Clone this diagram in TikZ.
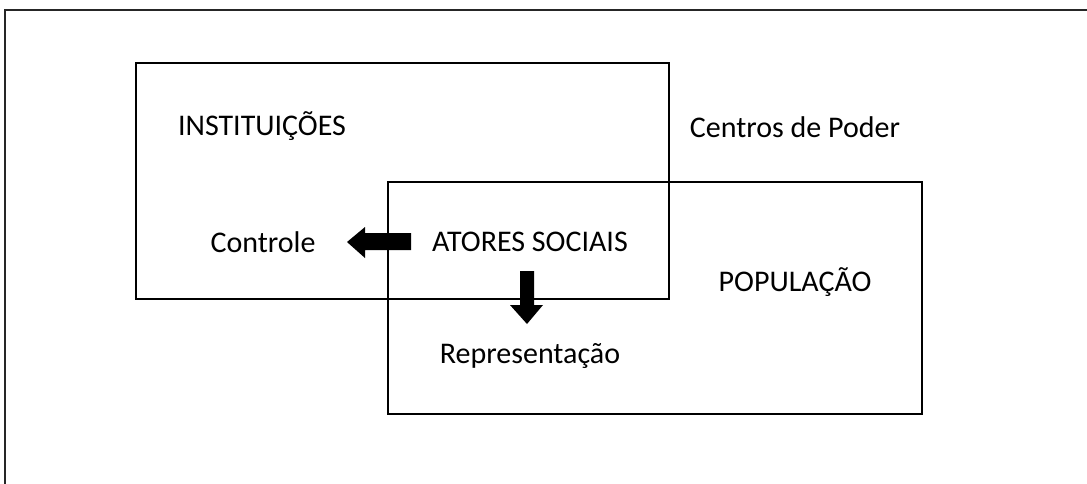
\documentclass[tikz,border=0pt]{standalone}
\usepackage{fontspec}
\setmainfont{Carlito}
\begin{document}
\begin{tikzpicture}[x=1pt,y=-1pt,
  box/.style={draw=black,line width=1.5pt},
  lbl/.style={font=\fontsize{30}{34}\selectfont,inner sep=0pt,anchor=center},
  fatarrow/.style={fill=black,draw=none}]
\useasboundingbox (0,0) rectangle (1087,483);
\draw[line width=2pt,draw=black!85] (5,490) -- (5,9.5) -- (1095,9.5);
\node[box,minimum width=533pt,minimum height=236pt,anchor=north west,inner sep=0pt] (inst) at (135,62) {};
\node[box,minimum width=534pt,minimum height=232pt,anchor=north west,inner sep=0pt] (pop) at (387,181) {};
\node[lbl] (tinst) at (262,126) {INSTITUIÇÕES};
\node[lbl] (tcent) at (795,127) {Centros de Poder};
\node[lbl] (tctrl) at (263,242) {Controle};
\node[lbl] (tator) at (530,242) {ATORES SOCIAIS};
\node[lbl] (tpop) at (795,282) {POPULAÇÃO};
\node[lbl] (trep) at (530,356) {Representação};
% left fat arrow
\fill[fatarrow] (411,233) -- (365,233) -- (365,227) -- (347,242) -- (365,258) -- (365,250) -- (411,250) -- cycle;
% down fat arrow
\fill[fatarrow] (520,271) -- (534,271) -- (534,305) -- (543,305) -- (527,324) -- (510,305) -- (520,305) -- cycle;
\end{tikzpicture}
\end{document}
